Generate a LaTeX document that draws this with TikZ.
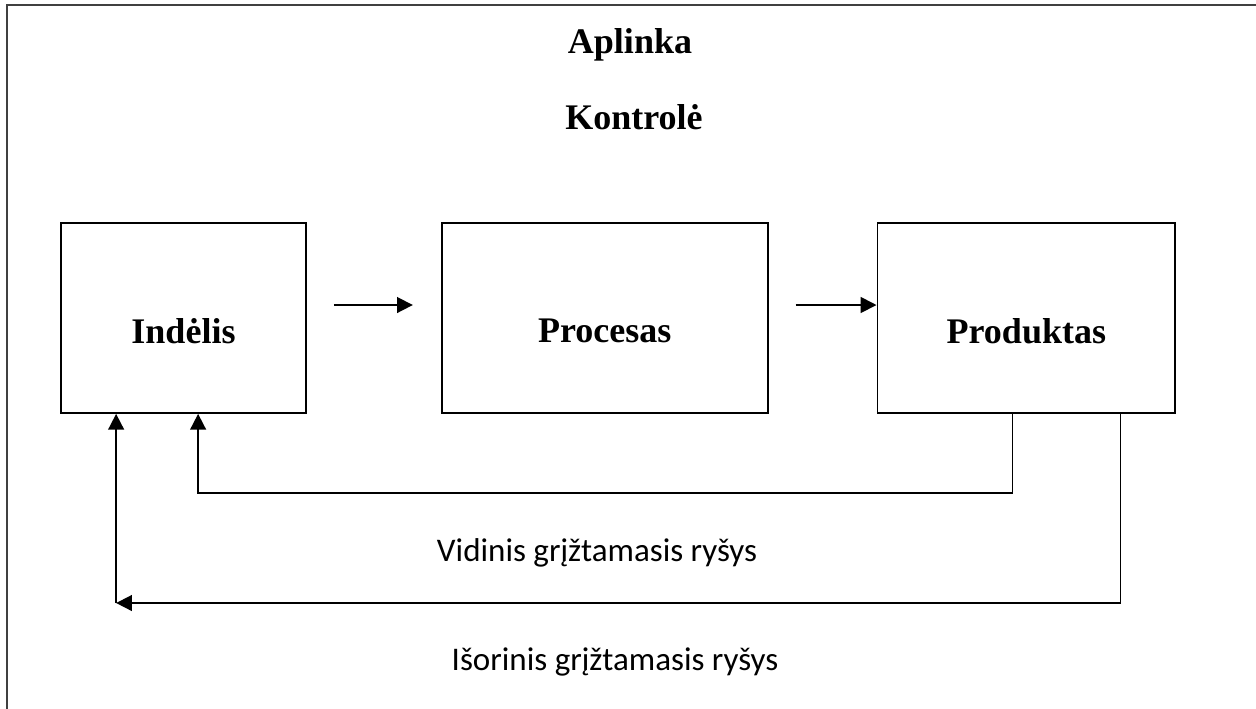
\documentclass[tikz,border=0pt]{standalone}
\usepackage{fontspec}
\setmainfont{Liberation Serif}
\newfontfamily\calib{Carlito}
\usepackage{tikz}
\usetikzlibrary{arrows.meta,positioning,calc}

\begin{document}
\begin{tikzpicture}[
  x=0.02cm, y=-0.02cm,
  box/.style={draw, line width=1pt, minimum height=3.8cm, inner sep=0pt},
  lbl/.style={font=\fontsize{20.5}{24}\selectfont\bfseries, yshift=-0.26cm},
  note/.style={font=\calib\fontsize{18.8}{22}\selectfont},
  arr/.style={-{Triangle[length=9pt, width=9pt]}, line width=1pt},
  line/.style={line width=1pt}
]
\useasboundingbox (0,0) rectangle (1256,708);
% outer frame (right and bottom edges fall off the page)
\draw[line width=1.6pt, black!75] (7,5) rectangle (1280,730);

\node[font=\fontsize{20.5}{24}\selectfont\bfseries] (aplinka) at (630,45) {Aplinka};
\node[font=\fontsize{20.5}{24}\selectfont\bfseries] (kontrole) at (634,117) {Kontrolė};

\node[box, minimum width=4.9cm, label={[lbl]center:Indėlis}] (indelis) at (183.5,318) {};
\node[box, minimum width=6.52cm, right=2.68cm of indelis, label={[lbl]center:Procesas}] (procesas) {};
\node[box, minimum width=5.96cm, right=2.16cm of procesas, label={[lbl]center:Produktas}] (produktas) {};

\draw[arr, shorten <=0.54cm, shorten >=0.56cm] ([yshift=0.26cm]indelis.east) -- ([yshift=0.26cm]procesas.west);
\draw[arr, shorten <=0.54cm] ([yshift=0.26cm]procesas.east) -- ([yshift=0.26cm]produktas.west);

% feedback loops
\coordinate (pin) at ([xshift=2.72cm]produktas.south west);
\coordinate (pout) at ([xshift=4.88cm]produktas.south west);
\coordinate (iin) at ([xshift=2.76cm]indelis.south west);
\coordinate (iout) at ([xshift=1.12cm]indelis.south west);

\draw[arr] (pin) -- (pin |- 0,493) -- (iin |- 0,493) -- (iin);
\draw[arr] (pout) -- (pout |- 0,603) -- (iout |- 0,603);
\draw[arr] (iout |- 0,603) -- (iout);

\node[note] (vidinis) at (597,553) {Vidinis grįžtamasis ryšys};
\node[note] (isorinis) at (615,662) {Išorinis grįžtamasis ryšys};
\end{tikzpicture}
\end{document}
